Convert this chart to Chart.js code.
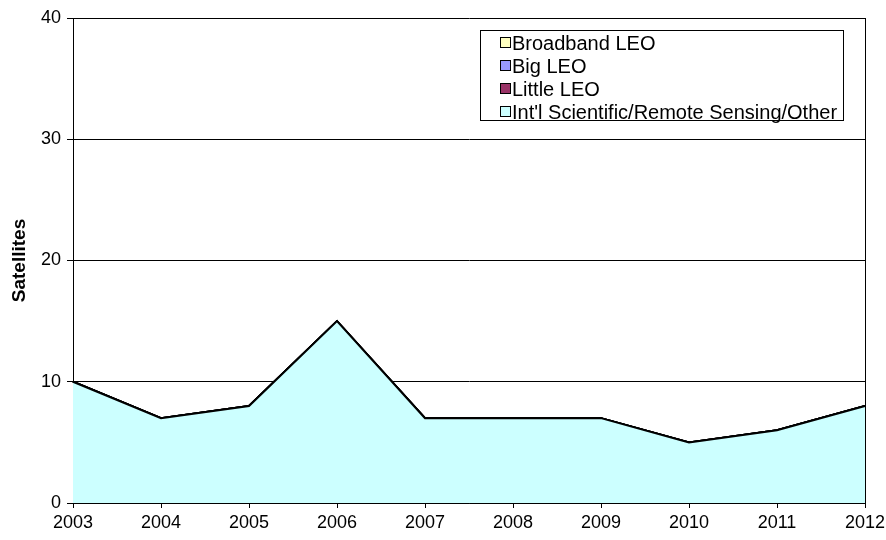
<!DOCTYPE html>
<html><head><meta charset="utf-8">
<script src="https://cdn.jsdelivr.net/npm/chart.js@4/dist/chart.umd.min.js"></script>
<style>html,body{margin:0;padding:0;background:#fff}#wrap{width:886px;height:540px}</style>
</head><body><div id="wrap"><canvas id="c" width="886" height="540"></canvas></div>
<script>
const years = ['2003','2004','2005','2006','2007','2008','2009','2010','2011','2012'];
const intlOther = [10,7,8,15,7,7,7,5,6,8];
const littleLEO = [0,0,0,0,0,0,0,0,0,0];
const bigLEO = [0,0,0,0,0,0,0,0,0,0];
const broadbandLEO = [0,0,0,0,0,0,0,0,0,0];
const yTicks = [0,10,20,30,40];

const FONT = 'Liberation Sans, Arial, sans-serif';

const legendPlugin = {
  id: 'boxLegend',
  afterDraw(chart) {
    const ctx = chart.ctx;
    const items = chart.data.datasets.slice().reverse();
    const x0 = 480, y0 = 30, w = 363, h = 90;
    ctx.save();
    ctx.fillStyle = '#fff';
    ctx.fillRect(x0, y0, w, h);
    ctx.strokeStyle = '#000';
    ctx.lineWidth = 1;
    ctx.strokeRect(x0 + 0.5, y0 + 0.5, w, h);
    ctx.font = '20px ' + FONT;
    ctx.textBaseline = 'middle';
    items.forEach((ds, i) => {
      const cy = Math.round(y0 + 13 + i * 23);
      ctx.fillStyle = ds.legendColor;
      ctx.fillRect(x0 + 20.5, cy - 5.5, 10, 10);
      ctx.strokeStyle = '#000';
      ctx.strokeRect(x0 + 20.5, cy - 5.5, 10, 10);
      ctx.fillStyle = '#000';
      ctx.fillText(ds.label, x0 + 32, cy + 1);
    });
    ctx.restore();
  }
};

const mk = (label, data, color, fill) => ({
  label, data, legendColor: color, backgroundColor: color, fill,
  borderColor: '#000', borderWidth: 2, pointRadius: 0, tension: 0
});

new Chart(document.getElementById('c'), {
  type: 'line',
  data: {
    labels: years,
    datasets: [
      mk("Int'l Scientific/Remote Sensing/Other", intlOther, '#CCFFFF', 'origin'),
      mk('Little LEO', littleLEO, '#993366', '-1'),
      mk('Big LEO', bigLEO, '#9999FF', '-1'),
      mk('Broadband LEO', broadbandLEO, '#FFFFC0', '-1')
    ]
  },
  options: {
    responsive: false,
    animation: false,
    devicePixelRatio: 1,
    layout: { padding: { left: 0, right: 21, top: 18, bottom: 0 } },
    plugins: { legend: { display: false }, tooltip: { enabled: false } },
    scales: {
      x: {
        offset: false,
        grid: { drawOnChartArea: false, color: '#000', tickLength: 5 },
        border: { color: '#000' },
        ticks: { color: '#000', font: { family: FONT, size: 18 }, maxRotation: 0, autoSkip: false, padding: 4 },
        afterFit(s) { s.height = 37; s.paddingLeft = 0; s.paddingRight = 0; }
      },
      y: {
        stacked: true, min: 0, max: 40,
        afterBuildTicks(s) { s.ticks = yTicks.map(v => ({ value: v })); },
        grid: { color: '#000', tickLength: 6 },
        border: { color: '#000' },
        ticks: { color: '#000', font: { family: FONT, size: 18 }, padding: 6 },
        title: { display: true, text: 'Satellites', color: '#000', font: { family: FONT, size: 19, weight: 'bold' }, padding: { top: 8, bottom: 0 } },
        afterFit(s) { s.width = 73; }
      }
    }
  },
  plugins: [legendPlugin, {
    id: 'rightBorder',
    afterDatasetsDraw(chart) {
      const { ctx, chartArea: a } = chart;
      ctx.save(); ctx.strokeStyle = '#000'; ctx.lineWidth = 1;
      ctx.beginPath(); ctx.moveTo(Math.round(a.right) + 0.5, a.top); ctx.lineTo(Math.round(a.right) + 0.5, a.bottom); ctx.stroke();
      ctx.restore();
    }
  }]
});
</script></body></html>
